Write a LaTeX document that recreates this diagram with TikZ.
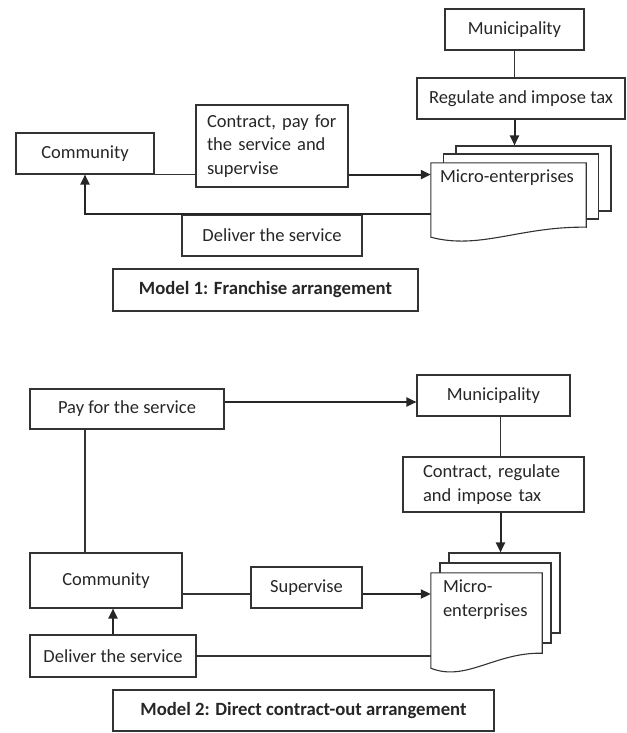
\documentclass[tikz,border=0pt]{standalone}
\usepackage{fontspec}
\setmainfont{Carlito}
\usetikzlibrary{arrows.meta,positioning,calc}

\tikzset{
  txt/.style={font=\fontsize{18.5}{23.5}\selectfont, text=black!85},
  box/.style={txt, draw=black!80, line width=1.1pt, rectangle, inner sep=0pt},
  sheet/.style={draw=black!80, line width=1.1pt, fill=white, inner sep=0pt},
  flow/.style={-{Triangle[length=10pt,width=9pt]}, line width=2pt, draw=black!85},
  link/.style={line width=1.1pt, draw=black!80},
  title/.style={box, font=\bfseries\fontsize{18.7}{22}\selectfont},
}

\begin{document}
\begin{tikzpicture}[x=1pt,y=-1pt]
\useasboundingbox (0,0) rectangle (626,733);

% Model 1
\node[box, minimum width=139pt, minimum height=41pt] (mun1) at (514.5,29.5) {Municipality};
\node[box, minimum width=208pt, minimum height=41pt] (reg1) at (521,98.5) {Regulate and impose tax};
\node[box, minimum width=138pt, minimum height=41pt] (com1) at (85,153.5) {Community};
\node[box, minimum width=152pt, minimum height=82pt, align=left, text width=130pt, inner xsep=11pt] (con1) at (272,146) {Contract, pay for\\the service and\\supervise};
\node[box, minimum width=180pt, minimum height=41pt] (del1) at (272,235.5) {Deliver the service};

% stack of sheets
\node[sheet, minimum width=155pt, minimum height=65pt] (me1b) at (533.5,178.5) {};
\node[sheet, minimum width=155pt, minimum height=65pt] (me1m) at (521,186.5) {};
\node[minimum width=155pt, minimum height=64pt, inner sep=0pt] (me1) at (508.5,195) {};
\draw[link, fill=white] (me1.north west) -- (me1.north east) -- (me1.south east)
  .. controls +(-66,-1) and +(49,13) .. ([yshift=-10pt]me1.south west) -- cycle;
\node[txt, anchor=north west, inner sep=0pt] (me1t) at ([xshift=9pt,yshift=-7pt]me1.north west) {Micro-enterprises};

\node[title, minimum width=305pt, minimum height=42pt] (tit1) at (265.5,290) {Model 1: Franchise arrangement};

\draw[link] (mun1) -- (mun1 |- reg1.north);
\draw[flow] (mun1 |- reg1.south) -- (mun1 |- me1b.north);
\draw[link] (com1.south east) -- (con1.west |- com1.south east);
\draw[flow] (con1.east |- com1.south) -- (me1.west |- com1.south);
\draw[flow] (me1.west |- del1.north) -| (com1.south);

% Model 2
\node[box, minimum width=194pt, minimum height=40pt] (pay2) at (127,409) {Pay for the service};
\node[box, minimum width=153pt, minimum height=41pt] (mun2) at (493.5,395.5) {Municipality};
\node[box, minimum width=181pt, minimum height=55pt, align=left, text width=141pt, inner xsep=20pt] (cr2) at (493.5,484.5) {Contract, regulate\\and impose tax};
\node[box, minimum width=152pt, minimum height=55pt] (com2) at (106,580.5) {Community};
\node[box, minimum width=111pt, minimum height=41pt] (sup2) at (306.5,587.5) {Supervise};
\node[box, minimum width=166pt, minimum height=42pt] (del2) at (113,656) {Deliver the service};

% stack of sheets
\node[sheet, minimum width=111pt, minimum height=80pt] (me2b) at (504.5,593) {};
\node[sheet, minimum width=111pt, minimum height=80pt] (me2m) at (495.5,603) {};
\node[minimum width=111pt, minimum height=80pt, inner sep=0pt] (me2) at (486.5,613) {};
\draw[link, fill=white] (me2.north west) -- (me2.north east) -- (me2.south east)
  .. controls +(-47,-1) and +(35,14) .. ([yshift=-15pt]me2.south west) -- cycle;
\node[txt, anchor=north west, inner sep=0pt, align=left] (me2t) at ([xshift=12pt,yshift=-7pt]me2.north west) {Micro-\\enterprises};

\node[title, minimum width=381pt, minimum height=41pt] (tit2) at (303.5,710.5) {Model 2: Direct contract-out arrangement};

\draw[flow] ([yshift=7pt]pay2.east) -- ([yshift=7pt]pay2.east -| mun2.west);
\draw[link] ([xshift=7pt]mun2.south) -- ([xshift=7pt]mun2.south |- cr2.north);
\draw[flow] ([xshift=7pt]mun2.south |- cr2.south) -- ([xshift=7pt]mun2.south |- me2b.north);
\draw[link] ([xshift=-42pt]pay2.south) -- ([xshift=-42pt]pay2.south |- com2.north);
\draw[link] ([yshift=-6.5pt]sup2.west) -- ([yshift=-6.5pt]sup2.west -| com2.east);
\draw[flow] ([yshift=-6.5pt]sup2.east) -- ([yshift=-6.5pt]sup2.east -| me2.west);
\draw[flow] (del2) -- (del2 |- com2.south);
\draw[link] (del2) -- (del2 -| me2.west);
\end{tikzpicture}
\end{document}
